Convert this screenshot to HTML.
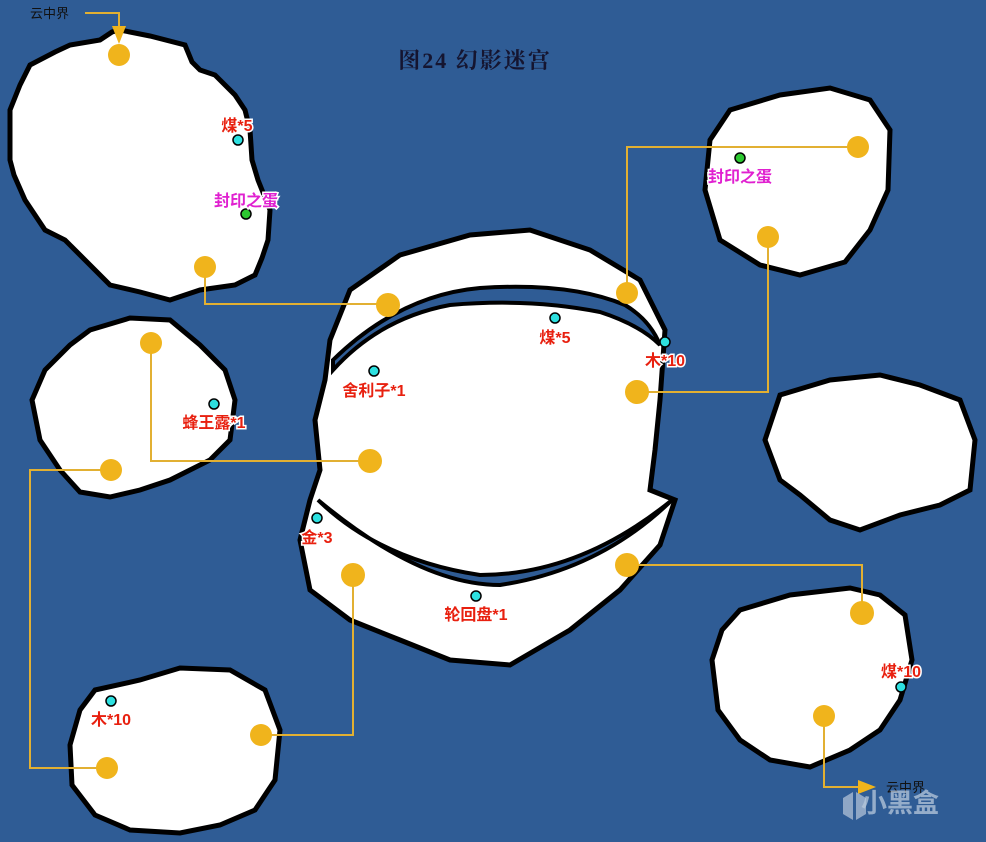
<!DOCTYPE html>
<html><head><meta charset="utf-8"><style>
html,body{margin:0;padding:0;background:#2f5c95;}
svg{display:block}
text{font-family:"Liberation Sans","Noto Sans CJK SC",sans-serif;}
.l{font-weight:bold;font-size:16px;fill:#e8200f;stroke:#fff;stroke-width:3px;paint-order:stroke;text-anchor:middle}
.m{fill:#e020d0}
</style></head><body>
<svg width="986" height="842" viewBox="0 0 986 842">
<rect width="986" height="842" fill="#2f5c95"/>
<g fill="#fff" stroke="#000" stroke-width="5" stroke-linejoin="miter">
<polygon points="30,65 55,52 70,45 100,40 112,32 120,30 150,36 185,45 192,62 200,70 215,75 235,95 245,110 250,130 252,160 258,180 270,210 268,240 262,258 255,275 235,285 200,290 170,300 140,292 110,285 90,265 65,240 45,230 25,200 14,175 10,160 10,110 20,85"/>
<polygon points="90,330 130,318 170,320 200,345 225,370 235,400 230,440 210,460 170,480 140,490 110,497 80,492 60,470 40,440 32,400 45,370 70,345"/>
<polygon points="95,690 140,680 180,668 230,670 265,690 280,730 275,780 255,810 220,825 180,833 130,830 95,815 72,785 70,745 80,710"/>
<polygon points="730,110 780,95 830,88 870,100 890,130 888,190 870,230 845,262 800,275 760,265 720,240 705,190 710,140"/>
<polygon points="780,395 830,380 880,375 920,385 960,400 975,440 970,490 940,505 900,515 860,530 830,520 800,495 780,480 765,440"/>
<polygon points="740,610 790,595 850,588 880,595 905,615 912,660 900,700 880,730 850,750 810,767 770,760 740,740 718,710 712,660 722,630"/>
<polygon points="330,340 350,290 400,255 470,235 530,230 590,250 640,280 665,330 660,400 655,450 650,490 675,500 660,545 620,590 570,630 510,665 450,660 400,640 350,620 310,590 300,540 310,500 320,470 315,420 325,380"/>
</g>
<path d="M333,360 Q400,295 480,288 Q570,282 625,305 Q650,320 660,345 Q640,325 600,312 Q530,298 450,305 Q380,318 333,370 Z" fill="#2f5c95" stroke="#000" stroke-width="4"/>
<path d="M318,500 Q380,560 480,575 Q580,575 672,500 Q600,570 500,585 Q420,585 318,500 Z" fill="#2f5c95" stroke="#000" stroke-width="4"/>
<g fill="none" stroke="#e2b032" stroke-width="2">
<polyline points="85,13 119,13 119,40"/>
<polyline points="205,267 205,304 388,304"/>
<polyline points="627,293 627,147 858,147"/>
<polyline points="768,237 768,392 637,392"/>
<polyline points="151,343 151,461 370,461"/>
<polyline points="111,470 30,470 30,768 107,768"/>
<polyline points="353,575 353,735 261,735"/>
<polyline points="627,565 862,565 862,613"/>
<polyline points="824,716 824,787 860,787"/>
</g>
<polygon points="112,26 126,26 119,44" fill="#f0b41c"/>
<polygon points="858,780 858,794 876,787" fill="#f0b41c"/>
<g fill="#f0b41c">
<circle cx="119" cy="55" r="11"/><circle cx="205" cy="267" r="11"/><circle cx="388" cy="305" r="12"/>
<circle cx="627" cy="293" r="11"/><circle cx="858" cy="147" r="11"/><circle cx="768" cy="237" r="11"/>
<circle cx="637" cy="392" r="12"/><circle cx="151" cy="343" r="11"/><circle cx="111" cy="470" r="11"/>
<circle cx="370" cy="461" r="12"/><circle cx="353" cy="575" r="12"/><circle cx="261" cy="735" r="11"/>
<circle cx="107" cy="768" r="11"/><circle cx="627" cy="565" r="12"/><circle cx="862" cy="613" r="12"/>
<circle cx="824" cy="716" r="11"/>
</g>
<g fill="#2de0e0" stroke="#000" stroke-width="1.5">
<circle cx="238" cy="140" r="5"/><circle cx="214" cy="404" r="5"/><circle cx="374" cy="371" r="5"/>
<circle cx="555" cy="318" r="5"/><circle cx="665" cy="342" r="5"/><circle cx="317" cy="518" r="5"/>
<circle cx="476" cy="596" r="5"/><circle cx="111" cy="701" r="5"/><circle cx="901" cy="687" r="5"/>
</g>
<g fill="#2cc830" stroke="#000" stroke-width="1.5">
<circle cx="246" cy="214" r="5"/><circle cx="740" cy="158" r="5"/>
</g>
<text class="l" x="237" y="131">煤*5</text>
<text class="l m" x="246" y="206">封印之蛋</text>
<text class="l m" x="740" y="182">封印之蛋</text>
<text class="l" x="214" y="428">蜂王露*1</text>
<text class="l" x="374" y="396">舍利子*1</text>
<text class="l" x="555" y="343">煤*5</text>
<text class="l" x="665" y="366">木*10</text>
<text class="l" x="317" y="543">金*3</text>
<text class="l" x="476" y="620">轮回盘*1</text>
<text class="l" x="111" y="725">木*10</text>
<text class="l" x="901" y="677">煤*10</text>
<text x="30" y="18" font-size="13" fill="#111">云中界</text>
<text x="886" y="792" font-size="13" fill="#111">云中界</text>
<text x="475" y="68" font-size="22" font-weight="bold" fill="#151530" text-anchor="middle" style="font-family:'Liberation Serif','Noto Serif CJK SC',serif;letter-spacing:2px">图24 幻影迷宫</text>
<text x="900" y="812" font-size="26" font-weight="bold" fill="#b8c8dc" opacity="0.75" text-anchor="middle">小黑盒</text>
<path d="M843,798 l10,-6 v28 l-10,-6 z M856,792 l10,6 v16 l-10,6 z" fill="#b8c8dc" opacity="0.7"/>
</svg>
</body></html>
